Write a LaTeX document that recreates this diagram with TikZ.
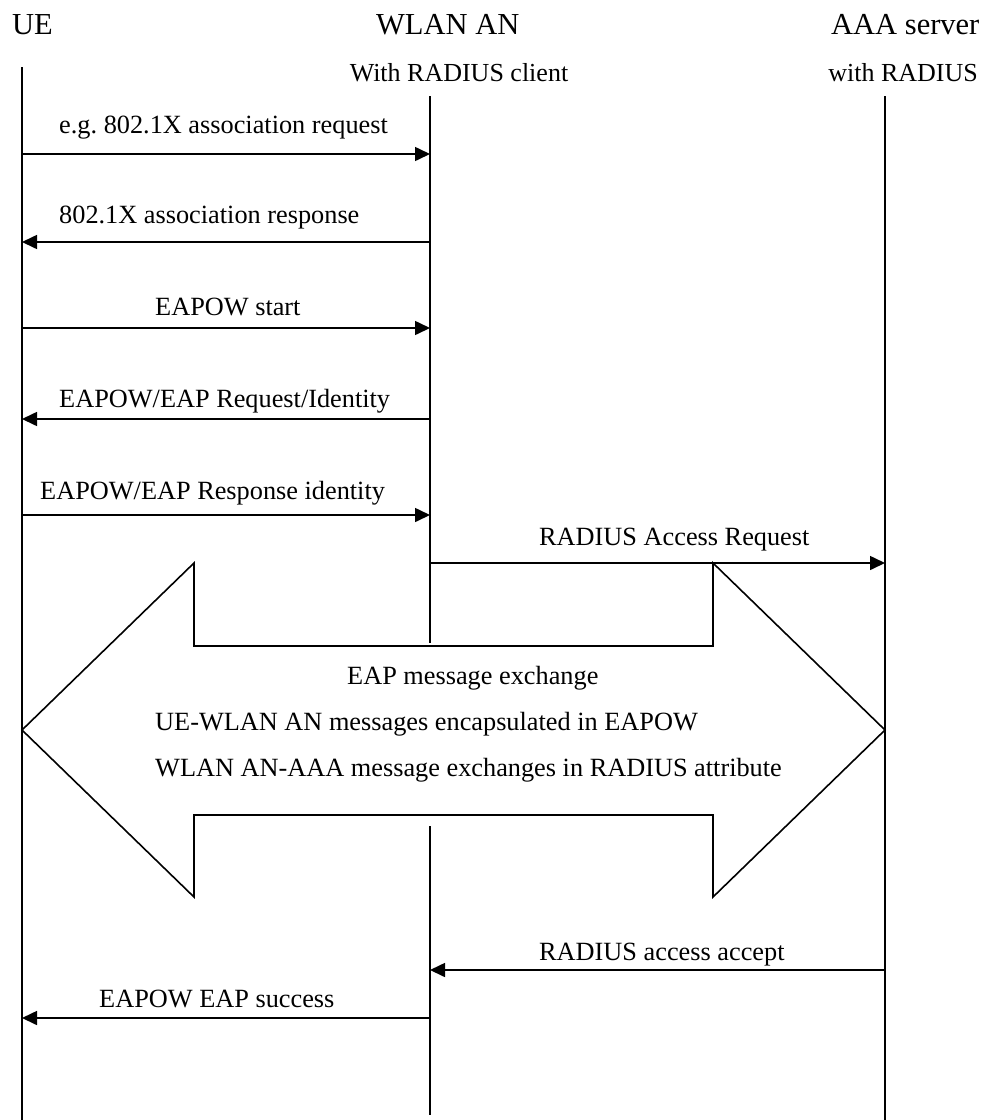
\documentclass[tikz,border=0pt]{standalone}
\usepackage{fontspec}
\setmainfont{Liberation Serif}
\usetikzlibrary{arrows.meta}
\frenchspacing

\tikzset{
  hdr/.style={inner sep=0pt, font=\fontsize{30.5pt}{34pt}\selectfont},
  sub/.style={inner sep=0pt, font=\fontsize{26pt}{30pt}\selectfont},
  lbl/.style={inner sep=0pt, anchor=base west, font=\fontsize{26.3pt}{30pt}\selectfont},
  lifeline/.style={line width=1.5pt},
  msg/.style={line width=1.6pt, -{Triangle[length=15pt,width=14pt]}},
  bigarrow/.style={line width=1.6pt, line join=miter, fill=white}
}

\begin{document}
\begin{tikzpicture}[x=1pt,y=-1pt]
\useasboundingbox (0,0) rectangle (986,1120);

% headers
\node[hdr, anchor=base west] (hue)  at (12,34)  {UE};
\node[hdr, anchor=base west] (han)  at (376,34) {WLAN AN};
\node[hdr, anchor=base west] (haaa) at (831,34) {AAA server};
\node[sub, anchor=base]      (san)  at (459,81) {With RADIUS client};
\node[sub, anchor=base east] (saaa) at (978,81) {with RADIUS};

% lifeline end points
\coordinate (ueTop)  at (22,67);
\coordinate (ueBot)  at (22,1120);
\coordinate (anTop)  at (430,96);
\coordinate (anGapA) at (430,643);
\coordinate (anGapB) at (430,826);
\coordinate (anBot)  at (430,1115);
\coordinate (aaaTop) at (885,96);
\coordinate (aaaBot) at (885,1120);

% EAP exchange double arrow
\coordinate (tipL) at (22,730);
\coordinate (tipR) at (885,730);
\draw[bigarrow] (tipL) -- (194,563) -- (194,646) -- (713,646) -- (713,563)
  -- (tipR) -- (713,897) -- (713,815) -- (194,815) -- (194,897) -- cycle;

% lifelines
\draw[lifeline] (ueTop) -- (ueBot);
\draw[lifeline] (anTop) -- (anGapA);
\draw[lifeline] (anGapB) -- (anBot);
\draw[lifeline] (aaaTop) -- (aaaBot);

% message anchor points on the lifelines
\coordinate (ue1) at (22,154);  \coordinate (an1) at (430,154);
\coordinate (ue2) at (22,242);  \coordinate (an2) at (430,242);
\coordinate (ue3) at (22,328);  \coordinate (an3) at (430,328);
\coordinate (ue4) at (22,419);  \coordinate (an4) at (430,419);
\coordinate (ue5) at (22,515);  \coordinate (an5) at (430,515);
\coordinate (an6) at (430,563); \coordinate (aaa6) at (885,563);
\coordinate (an7) at (430,970); \coordinate (aaa7) at (885,970);
\coordinate (ue8) at (22,1018); \coordinate (an8) at (430,1018);

% messages
\draw[msg] (ue1) -- (an1);
\draw[msg] (an2) -- (ue2);
\draw[msg] (ue3) -- (an3);
\draw[msg] (an4) -- (ue4);
\draw[msg] (ue5) -- (an5);
\draw[msg] (an6) -- (aaa6);
\draw[msg] (aaa7) -- (an7);
\draw[msg] (an8) -- (ue8);

% message labels
\node[lbl] (m1) at (59,133)  {e.g. 802.1X association request};
\node[lbl] (m2) at (59,223)  {802.1X association response};
\node[lbl] (m3) at (155,315) {EAPOW start};
\node[lbl] (m4) at (59,407)  {EAPOW/EAP Request/Identity};
\node[lbl] (m5) at (40,499)  {EAPOW/EAP Response identity};
\node[lbl] (m6) at (539,545) {RADIUS Access Request};
\node[lbl] (m7) at (539,960) {RADIUS access accept};
\node[lbl] (m8) at (99,1007) {EAPOW EAP success};

% text inside the double arrow
\node[lbl] (x1) at (347,684) {EAP message exchange};
\node[lbl] (x2) at (155,730) {UE-WLAN AN messages encapsulated in EAPOW};
\node[lbl] (x3) at (155,776) {WLAN AN-AAA message exchanges in RADIUS attribute};
\end{tikzpicture}
\end{document}
